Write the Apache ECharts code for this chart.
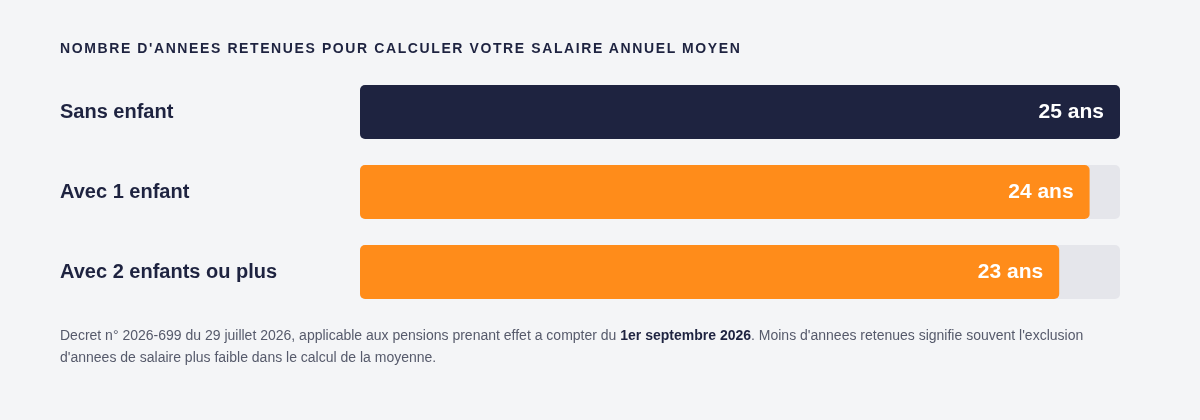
<!DOCTYPE html>
<html lang="fr">
<head>
    <meta charset="UTF-8">
    <title>Annees retenues - salaire annuel moyen</title>
    <style>
        html, body { margin: 0; padding: 0; background: #f4f5f7; }
        #wrap { position: relative; width: 1200px; height: 420px; }
        #titre {
            position: absolute; left: 60px; top: 40px;
            font-family: "Liberation Sans", Arial, sans-serif;
            font-size: 14px; line-height: 16px; font-weight: bold;
            letter-spacing: 1.6px; color: #1e2340;
        }
        #main { position: absolute; left: 0; top: 0; width: 1200px; height: 420px; }
    </style>
</head>
<body>
<div id="wrap">
    <div id="main"></div>
    <div id="titre">NOMBRE D'ANNEES RETENUES POUR CALCULER VOTRE SALAIRE ANNUEL MOYEN</div>
</div>

<script src="https://cdn.jsdelivr.net/npm/echarts@6/dist/echarts.min.js"></script>
<script type="text/javascript">
  var categories = ['Sans enfant', 'Avec 1 enfant', 'Avec 2 enfants ou plus'];
  var annees = [25, 24, 23];
  var couleurs = ['#1e2340', '#ff8c1a', '#ff8c1a'];
  var maxAnnees = 25;

  var note = "Decret n° 2026-699 du 29 juillet 2026, applicable aux pensions prenant effet a compter du {b|1er septembre 2026}. Moins d'annees retenues signifie souvent l'exclusion\nd'annees de salaire plus faible dans le calcul de la moyenne.";

  var myChart = echarts.init(document.getElementById('main'));
  var option = {
    backgroundColor: '#f4f5f7',
    animation: false,
    textStyle: { fontFamily: '"Liberation Sans", Arial, sans-serif' },
    grid: { left: 360, right: 80, top: 72, height: 240 },
    xAxis: { type: 'value', min: 0, max: maxAnnees, show: false },
    yAxis: {
      type: 'category',
      inverse: true,
      data: categories,
      axisLine: { show: false },
      axisTick: { show: false },
      axisLabel: {
        align: 'left',
        margin: 300,
        fontSize: 20,
        fontWeight: 'bold',
        color: '#1e2340'
      }
    },
    series: [
      {
        type: 'bar',
        barWidth: 54,
        showBackground: true,
        backgroundStyle: { color: '#e5e6eb', borderRadius: 5 },
        data: annees.map(function (v, i) {
          return { value: v, itemStyle: { color: couleurs[i], borderRadius: 5 } };
        }),
        label: {
          show: true,
          position: 'insideRight',
          distance: 16,
          formatter: '{c} ans',
          fontSize: 21,
          fontWeight: 'bold',
          color: '#ffffff'
        }
      }
    ],
    graphic: [
      {
        type: 'text',
        left: 60,
        top: 325,
        style: {
          text: note,
          fontSize: 14,
          lineHeight: 22,
          fill: '#565a6b',
          fontFamily: '"Liberation Sans", Arial, sans-serif',
          rich: {
            b: {
              fontSize: 14,
              lineHeight: 22,
              fontWeight: 'bold',
              fill: '#1e2340',
              fontFamily: '"Liberation Sans", Arial, sans-serif'
            }
          }
        }
      }
    ]
  };
  myChart.setOption(option);

  window.addEventListener('resize', function () {
    myChart.resize();
  });
</script>
</body>
</html>
